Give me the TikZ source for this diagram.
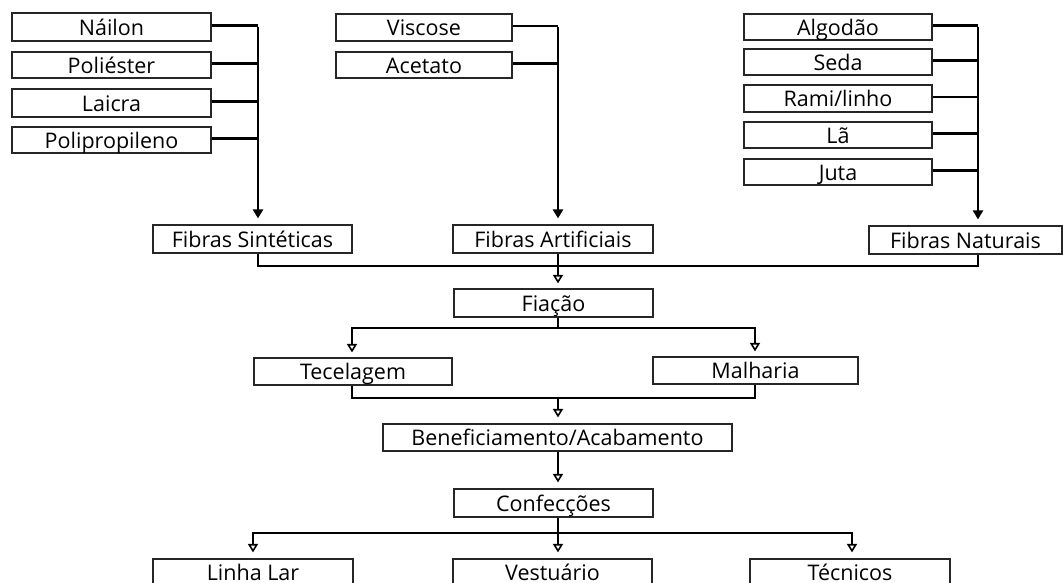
\documentclass[tikz,border=0pt]{standalone}
\usepackage{fontspec}
\setmainfont{Open Sans}
\usetikzlibrary{arrows.meta}
\tikzset{
  bx/.style={draw=black!85, line width=1.2pt, fill=white, inner sep=0pt, font=\fontsize{21.5}{24}\selectfont, text height=18.5pt, text depth=2pt},
  lastbx/.style={bx, text height=17.5pt, text depth=0pt},
  ln/.style={line width=2.6pt, black},
  fa/.style={ln, -{Triangle[length=9pt, width=10pt]}},
  oa/.style={ln, -{Triangle[open, length=8.5pt, width=10pt, line width=1.6pt]}}
}
\newcommand{\bxnode}[7][bx]{%
  \pgfmathsetmacro{\bw}{#5-#3}\pgfmathsetmacro{\bh}{#6-#4}%
  \pgfmathsetmacro{\cx}{(#5+#3)/2}\pgfmathsetmacro{\cy}{(#6+#4)/2}%
  \node[#1, minimum width=\bw pt, minimum height=\bh pt] (#2) at (\cx,\cy) {#7};}
\begin{document}
\begin{tikzpicture}[x=1pt,y=-1pt]
\useasboundingbox (0,0) rectangle (1063,582);
% top-left group
\bxnode{nai}{12}{13}{211}{41}{Náilon}
\bxnode{pol}{12}{52}{211}{78}{Poliéster}
\bxnode{lai}{12}{89}{211}{117}{Laicra}
\bxnode{pro}{12}{127}{211}{153}{Polipropileno}
% middle group
\bxnode{vis}{336}{14}{512}{41}{Viscose}
\bxnode{ace}{336}{52}{512}{78}{Acetato}
% right group
\bxnode{alg}{744}{14}{932}{40}{Algodão}
\bxnode{sed}{744}{49}{932}{75}{Seda}
\bxnode{ram}{744}{85}{932}{112}{Rami/linho}
\bxnode{la}{744}{122}{932}{148}{Lã}
\bxnode{jut}{744}{159}{932}{185}{Juta}
% fibres
\bxnode{sin}{153}{225}{352}{253}{Fibras Sintéticas}
\bxnode{art}{453}{225}{653}{253}{Fibras Artificiais}
\bxnode{nat}{869}{226}{1062}{254}{Fibras Naturais}
\bxnode{fia}{454}{289}{653}{317}{Fiação}
\bxnode{tec}{254}{358}{452}{385}{Tecelagem}
\bxnode{mal}{653}{357}{858}{384}{Malharia}
\bxnode{ben}{383}{424}{732}{451}{Beneficiamento/Acabamento}
\bxnode{con}{454}{489}{653}{517}{Confecções}
\bxnode[lastbx]{lin}{153}{559}{353}{585}{Linha Lar}
\bxnode[lastbx]{ves}{453}{559}{652}{585}{Vestuário}
\bxnode[lastbx]{tcn}{750}{559}{950}{585}{Técnicos}
% bus coordinates
\coordinate (vs) at (258,0);
\coordinate (va) at (558,0);
\coordinate (vn) at (978,0);
\coordinate (b1) at (0,266);
\coordinate (b2) at (0,328);
\coordinate (vt) at (352,0);
\coordinate (vm) at (755,0);
\coordinate (b3) at (0,398);
\coordinate (b4) at (0,533);
\coordinate (vl) at (253,0);
\coordinate (vr) at (852,0);
% left group connectors
\foreach \n in {nai,pol,lai,pro} \draw[ln] ([yshift=1.5pt]\n.east) -- ([yshift=1.5pt]\n.east -| vs);
\draw[fa, shorten >=6pt] ([yshift=0.2pt]nai.east -| vs) -- (vs |- sin.north);
% middle
\foreach \n in {vis,ace} \draw[ln] ([yshift=1.5pt]\n.east) -- ([yshift=1.5pt]\n.east -| va);
\draw[fa, shorten >=6pt] ([yshift=0.2pt]vis.east -| va) -- (va |- art.north);
% right
\foreach \n in {alg,sed,ram,la,jut} \draw[ln] ([yshift=1.5pt]\n.east) -- ([yshift=1.5pt]\n.east -| vn);
\draw[fa, shorten >=6pt] ([yshift=0.2pt]alg.east -| vn) -- (vn |- nat.north);
% fibres to Fiação
\draw[ln] (vs |- sin.south) -- (vs |- b1) -- (vn |- b1) -- (vn |- nat.south);
\draw[ln] (va |- art.south) -- (va |- b1);
\draw[oa, shorten >=5pt] (va |- b1) -- (va |- fia.north);
% Fiação to Tecelagem / Malharia
\draw[ln] (va |- fia.south) -- (va |- b2);
\draw[oa, shorten >=5pt] ([xshift=1.3pt]va |- b2) -- (vt |- b2) -- (vt |- tec.north);
\draw[oa, shorten >=5pt] ([xshift=-1.3pt]va |- b2) -- (vm |- b2) -- (vm |- mal.north);
% Tecelagem / Malharia to Beneficiamento
\draw[ln] (vt |- tec.south) -- (vt |- b3) -- (vm |- b3) -- (vm |- mal.south);
\draw[oa, shorten >=6pt] (va |- b3) -- (va |- ben.north);
% Beneficiamento to Confecções
\draw[oa, shorten >=6pt] (va |- ben.south) -- (va |- con.north);
% Confecções to products
\draw[ln] (va |- con.south) -- (va |- b4);
\draw[oa, shorten >=6pt] ([xshift=1.3pt]va |- b4) -- (vl |- b4) -- (vl |- lin.north);
\draw[oa, shorten >=6pt] ([xshift=-1.3pt]va |- b4) -- (vr |- b4) -- (vr |- tcn.north);
\draw[oa, shorten >=6pt] (va |- b4) -- (va |- ves.north);
\end{tikzpicture}
\end{document}
